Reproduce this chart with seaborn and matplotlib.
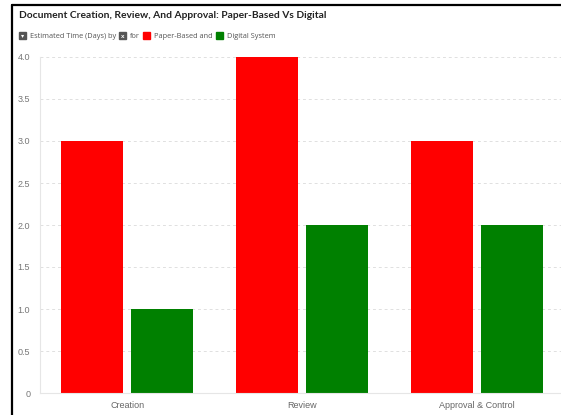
import matplotlib
matplotlib.use("Agg")
import matplotlib.pyplot as plt
from matplotlib.lines import Line2D
from matplotlib.patches import Rectangle
import seaborn as sns
import pandas as pd

stages = ["Creation", "Review", "Approval & Control"]
paper_days = [3.0, 4.0, 3.0]
digital_days = [1.0, 2.0, 2.0]
series = ["Paper-Based", "Digital System"]
colors = {"Paper-Based": "#ff0000", "Digital System": "#008000"}
yticks = [0, 0.5, 1.0, 1.5, 2.0, 2.5, 3.0, 3.5, 4.0]
ylabels = ["0", "0.5", "1.0", "1.5", "2.0", "2.5", "3.0", "3.5", "4.0"]

df = pd.DataFrame({
    "stage": stages * 2,
    "system": [series[0]] * 3 + [series[1]] * 3,
    "days": paper_days + digital_days,
})

sns.set_style("white")
plt.rcParams['font.family'] = ['Liberation Sans', 'DejaVu Sans']

W, H = 561, 415
fig = plt.figure(figsize=(W / 100, H / 100), dpi=100)
ax = fig.add_axes([40 / W, 1 - 393 / H, 524 / W, 336 / H])

sns.barplot(data=df, x="stage", y="days", hue="system", palette=colors,
            width=0.8, gap=0.11, saturation=1, edgecolor="none",
            legend=False, ax=ax)

ax.set_ylim(0, 4.0)
ax.set_yticks(yticks)
ax.set_yticklabels(ylabels)
ax.set_xlabel("")
ax.set_ylabel("")
ax.yaxis.grid(True, linestyle=(0, (3, 3)), color="#e0e0e0", linewidth=0.7)
ax.set_axisbelow(True)
for s in ["top", "right"]:
    ax.spines[s].set_visible(False)
for s in ["left", "bottom"]:
    ax.spines[s].set_color("#e6e6e6")
    ax.spines[s].set_linewidth(0.8)
ax.tick_params(axis="y", length=5, width=0.6, color="#e6e6e6", labelsize=6.5,
               labelcolor="#777777", pad=2)
ax.tick_params(axis="x", length=0, labelsize=6.5, labelcolor="#666666", pad=6)

# title and inline legend
fig.text(19 / W, 1 - 16 / H, "Document Creation, Review, And Approval: Paper-Based Vs Digital",
         fontsize=7.4, fontweight="bold", color="#222222", va="center", ha="left",
         family=["Lato", "DejaVu Sans"])

ly = 1 - 36 / H
sq = 7
parts = [
    ("box", "#555555", "\u25be"), ("text", None, "Estimated Time (Days) by"),
    ("box", "#555555", "x"), ("text", None, "for"),
    ("box", colors["Paper-Based"], ""), ("text", None, "Paper-Based and"),
    ("box", colors["Digital System"], ""), ("text", None, "Digital System"),
]
x = 19
renderer = fig.canvas.get_renderer()
for kind, col, label in parts:
    if kind == "box":
        fig.patches.append(Rectangle((x / W, ly - sq / 2 / H), sq / W, sq / H,
                                     transform=fig.transFigure, color=col))
        if label:
            fig.text((x + sq / 2) / W, ly, label, fontsize=4.5, color="white",
                     ha="center", va="center", fontweight="bold")
        x += sq + 4
    else:
        t = fig.text(x / W, ly, label, fontsize=5.3, color="#555555",
                     ha="left", va="center", family=["Open Sans", "DejaVu Sans"])
        bb = t.get_window_extent(renderer=renderer)
        x += bb.width + 3

# black frame of the screenshot
fig.add_artist(Line2D([12 / W, 12 / W], [0, 1 - 5 / H], transform=fig.transFigure,
                      color="black", linewidth=1.6))
fig.add_artist(Line2D([12 / W, 1], [1 - 5 / H, 1 - 5 / H], transform=fig.transFigure,
                      color="black", linewidth=1.6))

fig.savefig("out.png", dpi=100)
